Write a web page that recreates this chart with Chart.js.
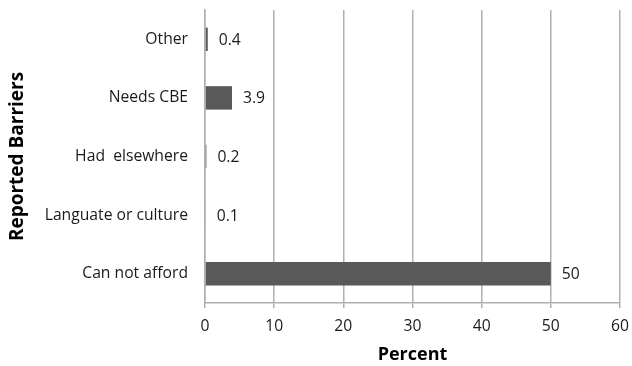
<!DOCTYPE html>
<html>
<head>
<meta charset="utf-8">
<script src="https://cdn.jsdelivr.net/npm/chart.js@4/dist/chart.umd.min.js"></script>
<style>
  html, body { margin: 0; padding: 0; background: #fff; }
  #wrap { width: 632px; height: 366px; }
</style>
</head>
<body>
<div id="wrap"><canvas id="chart" width="632" height="366"></canvas></div>
<script>
const categories = ['Other', 'Needs CBE', 'Had  elsewhere', 'Languate or culture', 'Can not afford'];
const percentValues = [0.4, 3.9, 0.2, 0.1, 50];
const valueLabels = ['0.4', '3.9', '0.2', '0.1', '50'];
const xTicks = [0, 10, 20, 30, 40, 50, 60];

const fontFamily = "'Open Sans', sans-serif";
const gridColor = '#b0b0b0';

const valueLabelPlugin = {
  id: 'valueLabels',
  afterDatasetsDraw(chart) {
    const ctx = chart.ctx;
    const meta = chart.getDatasetMeta(0);
    ctx.save();
    ctx.font = '15.7px ' + fontFamily;
    ctx.fillStyle = '#1a1a1a';
    ctx.textAlign = 'left';
    ctx.textBaseline = 'middle';
    meta.data.forEach((bar, i) => {
      ctx.fillText(valueLabels[i], bar.x + 11, bar.y + 1);
    });
    ctx.restore();
  }
};

new Chart(document.getElementById('chart').getContext('2d'), {
  type: 'bar',
  data: {
    labels: categories,
    datasets: [{
      data: percentValues,
      backgroundColor: '#595959',
      borderWidth: 0,
      barPercentage: 0.4,
      categoryPercentage: 1
    }]
  },
  options: {
    indexAxis: 'y',
    responsive: false,
    animation: false,
    layout: { padding: { top: 10, right: 12, left: 0, bottom: 0 } },
    plugins: {
      legend: { display: false },
      tooltip: { enabled: false }
    },
    scales: {
      x: {
        min: 0,
        max: 60,
        afterBuildTicks: s => { s.ticks = xTicks.map(v => ({ value: v })); },
        afterFit: s => {
          s.height = 63;
          s.paddingLeft = 0;
          s.paddingRight = 0;
        },
        grid: { color: gridColor, lineWidth: 1.5, tickLength: 5 },
        border: { color: gridColor, width: 1.5 },
        ticks: { color: '#1a1a1a', font: { family: fontFamily, size: 15.7 }, padding: 9 },
        title: {
          display: true,
          text: 'Percent',
          color: '#000',
          font: { family: fontFamily, size: 18, weight: 'bold' },
          padding: { top: 0, bottom: 0 }
        }
      },
      y: {
        afterFit: s => {
          s.width = 205;
          s.paddingTop = 0;
          s.paddingBottom = 0;
        },
        grid: { display: false, drawTicks: false },
        border: { color: gridColor, width: 1.5 },
        ticks: { color: '#1a1a1a', font: { family: fontFamily, size: 15.7 }, padding: 17 },
        title: {
          display: true,
          text: 'Reported Barriers',
          color: '#000',
          font: { family: fontFamily, size: 19, weight: 'bold' },
          padding: { top: 6, bottom: 0 }
        }
      }
    }
  },
  plugins: [valueLabelPlugin]
});
</script>
</body>
</html>
